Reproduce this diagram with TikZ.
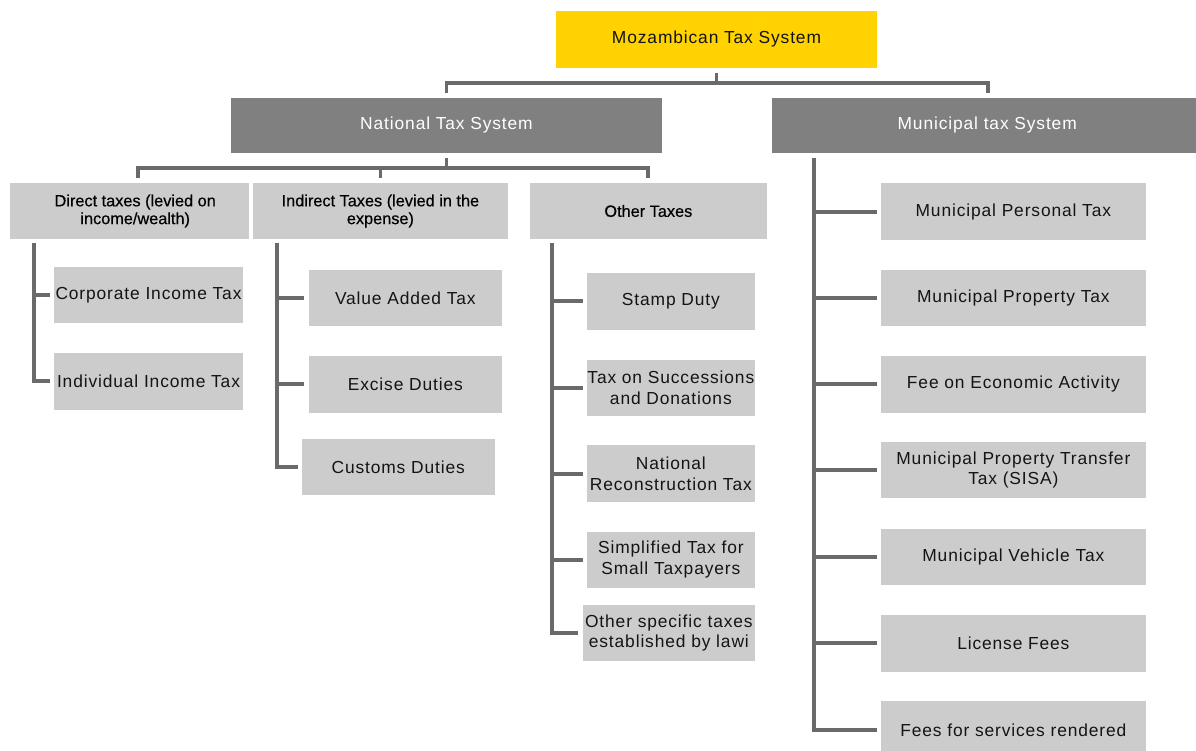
\documentclass[tikz,border=0pt]{standalone}
\usepackage{fontspec}
\setmainfont[LetterSpace=5]{Liberation Sans}
\newfontfamily\hdrfont[FakeBold=0.4]{Liberation Sans}
\usetikzlibrary{calc}
\definecolor{eyyellow}{HTML}{FFD200}
\definecolor{darkbox}{HTML}{808080}
\definecolor{lightbox}{HTML}{CCCCCC}
\definecolor{linegray}{HTML}{6A6A6A}
\definecolor{txt}{HTML}{141414}
\begin{document}
\begin{tikzpicture}[x=1pt,y=-1pt,
  box/.style={rectangle, inner sep=0pt, align=center, text=txt, font=\fontsize{17.4}{20.5}\selectfont},
  ybox/.style={box, fill=eyyellow},
  dbox/.style={box, fill=darkbox, text=white},
  hbox/.style={box, fill=lightbox, text=black, font=\hdrfont\fontsize{16.3}{17.8}\selectfont},
  lbox/.style={box, fill=lightbox},
  conn/.style={draw=linegray, line width=3.8pt, line join=miter, line cap=butt},
  sz/.style 2 args={minimum width=#1pt, minimum height=#2pt}
]
\clip (0,0) rectangle (1196,751);
\fill[white] (0,0) rectangle (1196,751);

% level 0 and 1
\node[ybox, sz={321}{57}] (top) at (716.5,39.5) {Mozambican Tax System};
\node[dbox, sz={431}{55.6}] (nat) at (446.5,125.5) {National Tax System};
\node[dbox, sz={431}{55.6}] (mun) at (987.2,125.5) {Municipal tax System};

% level 2
\node[hbox, sz={239.2}{56}] (dir) at (129.2,211) {\hspace*{12pt}Direct taxes (levied on\\\hspace*{12pt}income/wealth)};
\node[hbox, sz={255.6}{56}] (ind) at (380.4,211) {Indirect Taxes (levied in the\\expense)};
\node[hbox, sz={236.7}{56}] (oth) at (648.35,211) {Other Taxes};

% direct
\node[lbox, sz={188.4}{55.4}] (corp) at (148.5,295) {Corporate Income Tax};
\node[lbox, sz={188.4}{57.3}] (indiv) at (148.5,381.35) {Individual Income Tax};

% indirect
\node[lbox, sz={192.7}{56}] (vat) at (405.35,298) {Value Added Tax};
\node[lbox, sz={192.7}{57}] (exc) at (405.35,384.2) {Excise Duties};
\node[lbox, sz={193}{56}] (cus) at (398.2,467.3) {Customs Duties};

% other
\node[lbox, sz={168.3}{57.3}] (stamp) at (670.85,301.35) {Stamp Duty};
\node[lbox, sz={168.3}{55.7}] (succ) at (670.85,387.85) {Tax on Successions\\and Donations};
\node[lbox, sz={168.3}{57.3}] (nrec) at (670.85,473.65) {National\\Reconstruction Tax};
\node[lbox, sz={168.3}{56}] (simp) at (670.85,559.7) {Simplified Tax for\\Small Taxpayers};
\node[lbox, sz={172.3}{55.7}] (ospec) at (668.85,632.85) {Other specific taxes\\established by lawi};

% municipal
\node[lbox, sz={265.3}{57}] (m1) at (1013.35,211.85) {Municipal Personal Tax};
\node[lbox, sz={265.3}{55.5}] (m2) at (1013.35,297.75) {Municipal Property Tax};
\node[lbox, sz={265.3}{56.8}] (m3) at (1013.35,384.1) {Fee on Economic Activity};
\node[lbox, sz={265.3}{56}] (m4) at (1013.35,470) {Municipal Property Transfer\\Tax (SISA)};
\node[lbox, sz={265.3}{55.6}] (m5) at (1013.35,557.1) {Municipal Vehicle Tax};
\node[lbox, sz={265.3}{57}] (m6) at (1013.35,643.25) {License Fees};
\node[lbox, sz={265.3}{57}] (m7) at (1013.35,729.8) {Fees for services rendered};

% connectors top
\coordinate (b1) at (716.5,82.7);
\draw[conn] ([yshift=-4.5pt]top.south) -- (b1);
\draw[conn] ([yshift=4.3pt]nat.north) |- (b1) -| ([xshift=0.8pt,yshift=4.3pt]mun.north);

% national bracket
\coordinate (b2) at (446.5,168.3);
\draw[conn] ([yshift=-4.7pt]nat.south) -- (b2);
\draw[conn] ([xshift=8.6pt,yshift=4.7pt]dir.north) |- (b2) -| ([yshift=4.7pt]oth.north);
\draw[conn] ([yshift=4.7pt]ind.north) -- (ind.north |- b2);

% direct spine
\coordinate (ds) at (34,243.3);
\draw[conn] (ds) |- ([xshift=-4.3pt]indiv.west);
\draw[conn] (ds |- corp.west) -- ([xshift=-4.3pt]corp.west);

% indirect spine
\coordinate (is) at (276.7,243.3);
\draw[conn] (is) |- ([xshift=-4pt]cus.west);
\draw[conn] (is |- vat.west) -- ([xshift=-4.7pt]vat.west);
\draw[conn] (is |- exc.west) -- ([xshift=-4.7pt]exc.west);

% other spine
\coordinate (os) at (551.7,243.3);
\draw[conn] (os) |- ([xshift=-4.7pt]ospec.west);
\draw[conn] (os |- stamp.west) -- ([xshift=-4pt]stamp.west);
\draw[conn] (os |- succ.west) -- ([xshift=-4pt]succ.west);
\draw[conn] (os |- nrec.west) -- ([xshift=-4pt]nrec.west);
\draw[conn] (os |- simp.west) -- ([xshift=-4pt]simp.west);

% municipal spine
\coordinate (ms) at (814.3,158.4);
\draw[conn] (ms) |- ([xshift=-4pt]m7.west);
\draw[conn] (ms |- m1.west) -- ([xshift=-4pt]m1.west);
\draw[conn] (ms |- m2.west) -- ([xshift=-4pt]m2.west);
\draw[conn] (ms |- m3.west) -- ([xshift=-4pt]m3.west);
\draw[conn] (ms |- m4.west) -- ([xshift=-4pt]m4.west);
\draw[conn] (ms |- m5.west) -- ([xshift=-4pt]m5.west);
\draw[conn] (ms |- m6.west) -- ([xshift=-4pt]m6.west);
\end{tikzpicture}
\end{document}
